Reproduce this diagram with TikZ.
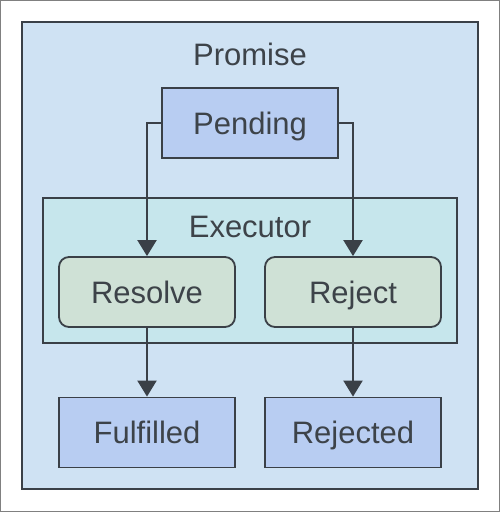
\documentclass[tikz,border=0pt]{standalone}
\usepackage{fontspec}
\setmainfont{Liberation Sans}
\usetikzlibrary{arrows.meta}
\definecolor{strokec}{HTML}{3A4047}
\definecolor{textc}{HTML}{3D4349}
\definecolor{promisefill}{HTML}{CFE2F3}
\definecolor{pendfill}{HTML}{B8CDF2}
\definecolor{execfill}{HTML}{C6E6EC}
\definecolor{greenfill}{HTML}{CFE1D6}
\begin{document}
\begin{tikzpicture}[x=1pt,y=-1pt,
  lbl/.style={font=\fontsize{31}{36}\selectfont, text=textc, text height=22.2pt, text depth=0pt, inner sep=0pt},
  box/.style={lbl, draw=strokec, line width=1.8pt, minimum width=176pt, minimum height=70pt, fill=pendfill},
  rbox/.style={box, fill=greenfill, rounded corners=10pt},
  arr/.style={draw=strokec, line width=2pt, -{Triangle[width=19pt,length=16pt]}}
]
\useasboundingbox (0,0) rectangle (500,512);
\draw[gray, line width=1pt] (0.5,0.5) rectangle (499.5,511.5);
\draw[strokec, line width=1.8pt, fill=promisefill] (22,22) rectangle (478,489);
\node[lbl] (promise) at (250,54) {Promise};
\node[box] (pending) at (250,123) {Pending};
\draw[strokec, line width=1.8pt, fill=execfill] (43,198) rectangle (457,343);
\node[lbl] (executor) at (250,226) {Executor};
\node[rbox] (resolve) at (147,292) {Resolve};
\node[rbox] (reject) at (353,292) {Reject};
\node[box] (fulfilled) at (147,432.5) {Fulfilled};
\node[box] (rejected) at (353,432.5) {Rejected};
\draw[arr] (pending.west) -| (resolve.north);
\draw[arr] (pending.east) -| (reject.north);
\draw[arr] (resolve.south) -- (fulfilled.north);
\draw[arr] (reject.south) -- (rejected.north);
\end{tikzpicture}
\end{document}
